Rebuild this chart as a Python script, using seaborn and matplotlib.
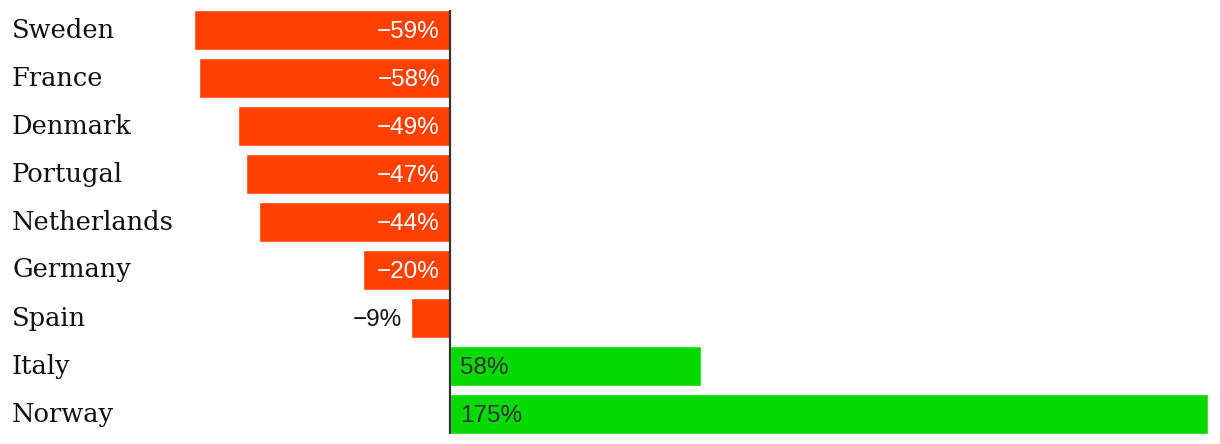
import matplotlib
matplotlib.use("Agg")
import matplotlib.pyplot as plt
import seaborn as sns
import pandas as pd

countries = ["Sweden", "France", "Denmark", "Portugal", "Netherlands",
             "Germany", "Spain", "Italy", "Norway"]
values = [-59, -58, -49, -47, -44, -20, -9, 58, 175]

NEG_COLOR = "#ff4000"
POS_COLOR = "#07da02"

df = pd.DataFrame({"country": countries, "value": values})
df["sign"] = ["neg" if v < 0 else "pos" for v in values]

sns.set_theme(style="white")
plt.rcParams["font.family"] = ["DejaVu Sans"]

fig = plt.figure(figsize=(12.2, 4.44), dpi=100)
ax = fig.add_axes([0, 0, 1, 1])

sns.barplot(data=df, x="value", y="country", hue="sign",
            palette={"neg": NEG_COLOR, "pos": POS_COLOR},
            orient="h", dodge=False, width=40 / 48, legend=False,
            saturation=1, ax=ax)

px = 758 / 175.0  # pixels per percent
ax.set_xlim(-450 / px, (1220 - 450) / px)
ax.set_ylim(8.625, -0.625)
ax.axis("off")

# zero line
ax.plot([0, 0], [-0.4167, 8.4167], color="#333333", lw=1.6,
        solid_capstyle="butt", zorder=5)

VAL_FONT = ["Liberation Sans", "DejaVu Sans"]
label_x = -450 / px + 12 / px
for i, (c, v) in enumerate(zip(countries, values)):
    ax.text(label_x, i, c, ha="left", va="center", fontsize=18.5,
            family=["DejaVu Serif"], color="#111111")
    lab = f"{v}%".replace("-", "\u2212")
    yv = i + 0.035
    if v < 0:
        if abs(v) >= 15:
            ax.text(-10 / px, yv, lab, ha="right", va="center",
                    fontsize=17.5, color="white", family=VAL_FONT)
        else:
            ax.text(v - 9 / px, yv, lab, ha="right", va="center",
                    fontsize=17.5, color="#111111", family=VAL_FONT)
    else:
        ax.text(10 / px, yv, lab, ha="left", va="center", fontsize=17.5,
                color="#333333", family=VAL_FONT)

fig.savefig("out.png", dpi=100, facecolor="white")
